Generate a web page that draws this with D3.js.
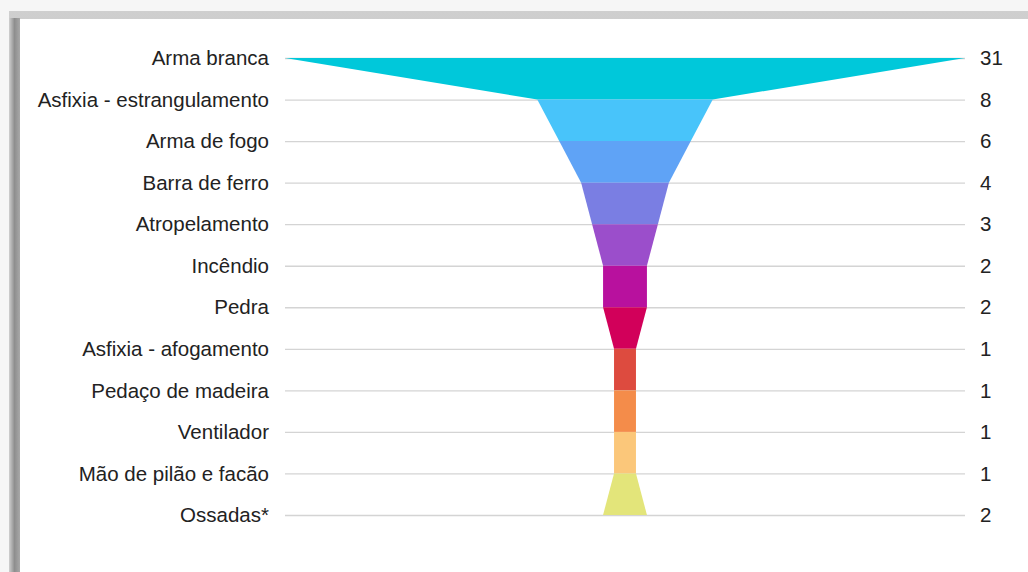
<!DOCTYPE html>
<html>
<head>
<meta charset="utf-8">
<script src="https://cdnjs.cloudflare.com/ajax/libs/d3/7.8.5/d3.min.js"></script>
<style>
    body { margin: 0; background: #f6f6f6; font-family: 'Liberation Sans', Arial, sans-serif; }
    svg { display: block; }
</style>
</head>
<body>
<svg width="1028" height="572"></svg>
<script>
    // data
    var categories = ["Arma branca", "Asfixia - estrangulamento", "Arma de fogo", "Barra de ferro",
        "Atropelamento", "Incêndio", "Pedra", "Asfixia - afogamento", "Pedaço de madeira",
        "Ventilador", "Mão de pilão e facão", "Ossadas*"];
    var values = [31, 8, 6, 4, 3, 2, 2, 1, 1, 1, 1, 2];
    var colors = ["#00c8da", "#48c4fa", "#5fa3f6", "#7a7ee3", "#9b4ecb", "#b8119e",
        "#d2005a", "#dd4b3f", "#f48c4a", "#fbc77a", "#e3e57a"];

    var svg = d3.select("svg");

    // window-like frame round the chart
    var defs = svg.append("defs");
    var gTop = defs.append("linearGradient").attr("id", "gTop").attr("x1", 0).attr("y1", 0).attr("x2", 0).attr("y2", 1);
    gTop.append("stop").attr("offset", "0%").attr("stop-color", "#cfcfcf");
    gTop.append("stop").attr("offset", "60%").attr("stop-color", "#a8a8a8");
    gTop.append("stop").attr("offset", "100%").attr("stop-color", "#8a8a8a");
    var gLeft = defs.append("linearGradient").attr("id", "gLeft").attr("x1", 0).attr("y1", 0).attr("x2", 1).attr("y2", 0);
    gLeft.append("stop").attr("offset", "0%").attr("stop-color", "#d0d0d0");
    gLeft.append("stop").attr("offset", "50%").attr("stop-color", "#8e8e8e");
    gLeft.append("stop").attr("offset", "100%").attr("stop-color", "#a8a8a8");

    svg.append("rect").attr("x", 9).attr("y", 11).attr("width", 1019).attr("height", 561).attr("fill", "url(#gTop)");
    svg.append("rect").attr("x", 9).attr("y", 18).attr("width", 11).attr("height", 554).attr("fill", "url(#gLeft)");
    svg.append("rect").attr("x", 20).attr("y", 19).attr("width", 1008).attr("height", 553).attr("fill", "#fff");

    var cx = 625;
    var y = d3.scalePoint().domain(categories).range([58, 515]);
    var w = d3.scaleLinear().domain([0, 31]).range([0, 340]);

    var g = svg.append("g");

    // gridlines
    g.append("g").selectAll("line")
        .data(categories)
        .enter().append("line")
        .attr("x1", 285).attr("x2", 965)
        .attr("y1", function(d) { return y(d) + 0.5; })
        .attr("y2", function(d) { return y(d) + 0.5; })
        .attr("stroke", "#d4d4d4")
        .attr("stroke-width", 1.3);

    // funnel segments between consecutive rows
    var segs = d3.range(values.length - 1);
    g.append("g").selectAll("path")
        .data(segs)
        .enter().append("path")
        .attr("fill", function(i) { return colors[i]; })
        .attr("d", function(i) {
            var y0 = y(categories[i]), y1 = y(categories[i + 1]);
            var a = w(values[i]), b = w(values[i + 1]);
            return "M" + (cx - a) + "," + y0 + "L" + (cx + a) + "," + y0 +
                "L" + (cx + b) + "," + y1 + "L" + (cx - b) + "," + y1 + "Z";
        });

    // category labels
    g.append("g").selectAll("text")
        .data(categories)
        .enter().append("text")
        .attr("x", 269)
        .attr("y", function(d) { return y(d); })
        .attr("dy", "0.35em")
        .attr("text-anchor", "end")
        .attr("font-size", "20.5px")
        .attr("fill", "#222")
        .text(function(d) { return d; });

    // values on the right
    g.append("g").selectAll("text")
        .data(values)
        .enter().append("text")
        .attr("x", 980)
        .attr("y", function(d, i) { return y(categories[i]); })
        .attr("dy", "0.35em")
        .attr("font-size", "20.5px")
        .attr("fill", "#222")
        .text(function(d) { return d; });
</script>
</body>
</html>
